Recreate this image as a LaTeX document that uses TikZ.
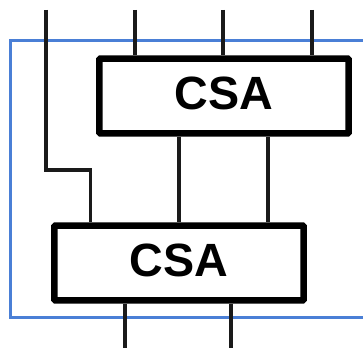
\documentclass[tikz,border=0pt]{standalone}
\usepackage{fontspec}
\setmainfont{Liberation Sans}
\definecolor{frameblue}{HTML}{4A7FD6}
\definecolor{wirecol}{HTML}{1A1A1A}
\newcommand{\csalabel}{\raisebox{4.6pt}{CSA}}
\tikzset{
  csabox/.style={draw=black,fill=white,line width=4.9pt,rounded corners=0.8pt,minimum width=187pt,minimum height=56pt,inner sep=0pt,font=\fontsize{35pt}{38pt}\selectfont\bfseries,text=black},
  wire/.style={draw=wirecol,line width=2.8pt},
  frameline/.style={draw=frameblue,line width=2.6pt}
}
\begin{document}
\begin{tikzpicture}[x=0.75pt,y=-0.75pt]
\useasboundingbox (0,0) rectangle (363,349);
\coordinate (fr1) at (363,40.5);
\coordinate (fr2) at (10.5,40.5);
\coordinate (fr3) at (10.5,317.5);
\coordinate (fr4) at (363,317.5);
\draw[frameline] (fr1) -- (fr2) -- (fr3) -- (fr4);
\coordinate (i1) at (46,10);
\coordinate (i2) at (135,10);
\coordinate (i3) at (223,10);
\coordinate (i4) at (312,10);
\coordinate (o1) at (125,348);
\coordinate (o2) at (231,348);
\coordinate (bend1) at (46,170);
\coordinate (bend2) at (90.5,170);
\coordinate (m1) at (179,150);
\coordinate (m2) at (268,150);
\node[csabox] (top) at (224,96) {\csalabel};
\node[csabox] (bot) at (179,263) {\csalabel};
\draw[wire] (i1) -- (bend1) -- (bend2) -- (bend2 |- bot.north);
\draw[wire] (i2) -- (i2 |- top.north);
\draw[wire] (i3) -- (i3 |- top.north);
\draw[wire] (i4) -- (i4 |- top.north);
\draw[wire] (m1 |- top.south) -- (m1 |- bot.north);
\draw[wire] (m2 |- top.south) -- (m2 |- bot.north);
\draw[wire] (o1 |- bot.south) -- (o1);
\draw[wire] (o2 |- bot.south) -- (o2);
\end{tikzpicture}
\end{document}
